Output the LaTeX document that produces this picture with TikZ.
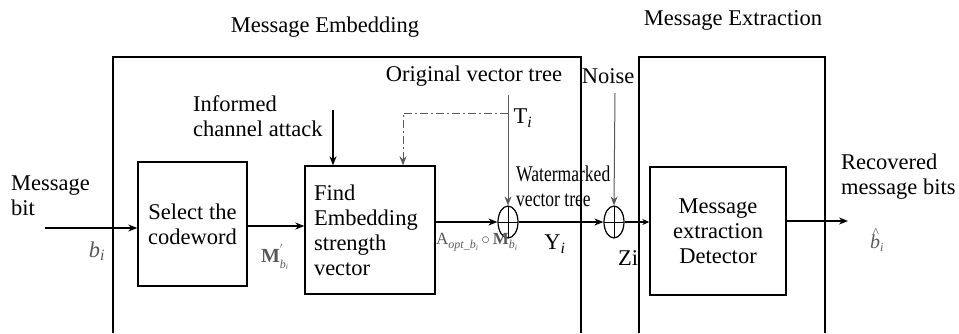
\documentclass[tikz,border=0pt]{standalone}
\usepackage{fontspec}
\setmainfont{Liberation Serif}
\usetikzlibrary{shapes.geometric,arrows.meta}
\newcommand{\subsz}[1]{{\fontsize{12}{12}\selectfont #1}}
\begin{document}
\begin{tikzpicture}[x=1pt,y=-1pt,
  font=\fontsize{22.5}{25}\selectfont,
  blk/.style={draw,line width=1.4pt,inner sep=0pt,align=center},
  frame/.style={draw,line width=1.2pt},
  lbl/.style={inner sep=0pt,align=left},
  glbl/.style={inner sep=0pt,text=black!65},
  conn/.style={line width=1.1pt,-{Stealth[length=9pt,width=7pt]}},
  gconn/.style={line width=1pt,draw=black!65,-{Stealth[length=9pt,width=7pt]}},
  summer/.style={draw,ellipse,line width=1.2pt,minimum width=20pt,minimum height=32pt,inner sep=0pt,
    path picture={\draw[line width=0.9pt] (path picture bounding box.north) -- (path picture bounding box.south)
      (path picture bounding box.west) -- (path picture bounding box.east);}}
]
\useasboundingbox (0,0) rectangle (959,333);
% outer frames
\draw[frame] (113,333) -- (113,57) -- (581,57) -- (581,333);
\draw[frame] (639,333) -- (639,57) -- (825,57) -- (825,333);
\node[lbl] (t1) at (325,27) {Message Embedding};
\node[lbl] (t2) at (733,20) {Message Extraction};
% blocks
\node[blk,minimum width=109pt,minimum height=124pt] (sel) at (192.5,224) {Select the\\codeword};
\node[blk,minimum width=130pt,minimum height=128pt,align=left,text width=112pt] (find) at (370,230) {Find\\Embedding\\strength\\vector};
\node[blk,minimum width=136pt,minimum height=128pt] (det) at (718,231) {Message\\extraction\\Detector};
\node[summer] (c1) at (508,222) {};
\node[summer] (c2) at (614,222) {};
% text labels
\node[lbl,anchor=west] (mb) at (11,196) {Message\\bit};
\node[lbl,anchor=west] (ica) at (193,116) {Informed\\channel attack};
\node[lbl] (ovt) at (474,76) {Original vector tree};
\node[lbl] (noise) at (608,76) {Noise};
\node[lbl,anchor=west] (wvt) at (516,186) {\scalebox{0.78}[1]{Watermarked}\\\scalebox{0.78}[1]{vector tree}};
\node[lbl,anchor=west] (rmb) at (841,177) {Recovered\\message bits};
\node[glbl] (bi) at (97,251) {\textit{b}\textsubscript{\textit{i}}};
\node[glbl,font=\fontsize{20}{22}\selectfont,anchor=west] (mbi) at (261,257) {\textbf{M}\raisebox{9pt}{\subsz{$'$}}\hspace{-3pt}\raisebox{-6pt}{\subsz{\textit{b}\textsubscript{\textit{i}}}}};
\node[glbl,font=\fontsize{17}{19}\selectfont,anchor=west] (aopt) at (436,242) {A\raisebox{-4pt}{\subsz{\textit{opt\_b}\textsubscript{\textit{i}}}}\,$\circ$\,\textbf{M}\raisebox{-4pt}{\subsz{\textit{b}\textsubscript{\textit{i}}}}};
\node[lbl] (yi) at (555,244) {Y\textsubscript{\textit{i}}};
\node[lbl] (ti) at (523,118) {T\textsubscript{\textit{i}}};
\node[lbl] (zi) at (628,258) {Zi};
\node[glbl,font=\fontsize{20}{22}\selectfont,anchor=west] (bh) at (870,240) {\textit{b}\llap{\raisebox{11pt}{\fontsize{14}{14}\selectfont\textasciicircum}\hspace{1pt}}\raisebox{-3pt}{\subsz{\textit{i}}}};
% coordinates
\coordinate (in) at (45,228);
\coordinate (out) at (848,221);
\coordinate (icaS) at (333,110);
\coordinate (tiS) at (508,95);
\coordinate (nS) at (615,93);
\coordinate (dd) at (508,113);
% connectors
\draw[conn] (in) -- (sel.west |- in);
\draw[conn] (sel.east |- 0,226) -- (find.west |- 0,226);
\draw[conn] (find.east |- c1) -- (c1.west);
\draw[conn] (c1.east) -- (c2.west);
\draw[conn,-{Stealth[length=7pt,width=6pt]}] (c2.east) -- (det.west |- c2);
\draw[conn] (det.east |- out) -- (out);
\draw[conn] (icaS) -- (icaS |- find.north);
\draw[gconn] (tiS) -- (c1.north);
\draw[gconn] (nS) -- (c2.north);
\draw[line width=1pt,draw=black!65,dash pattern=on 8pt off 3pt on 2pt off 3pt,-{Stealth[length=9pt,width=7pt]}] (dd) -| (find.north -| 403,0);
\end{tikzpicture}
\end{document}
